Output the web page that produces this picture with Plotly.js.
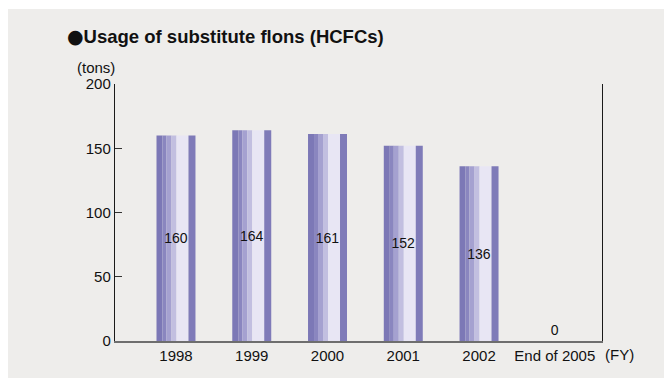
<!DOCTYPE html>
<html>
<head>
<meta charset="utf-8">
<script src="https://cdn.plot.ly/plotly-3.0.1.min.js"></script>
<style>
  html, body { margin: 0; padding: 0; background: #ffffff; }
  #panel { position: absolute; left: 8px; top: 9px; width: 656px; height: 369px; background: #eeedeb; }
  #chart { width: 656px; height: 369px; }
</style>
</head>
<body>
<div id="panel"><div id="chart"></div></div>
<script>
// ---- data ----
const categories = ["1998", "1999", "2000", "2001", "2002", "End of 2005"];
const usageTons = [160, 164, 161, 152, 136, 0];
const yTickValues = [0, 50, 100, 150, 200];
const titleBullet = "●";
const chartTitle = "Usage of substitute flons (HCFCs)";
const yUnit = "(tons)";
const xUnit = "(FY)";

// ---- style: vertical stripes making up each bar (pixel boundaries relative to bar centre) ----
const pxPerCat = 75.8;
const stripeEdges = [-19.5, -13.5, -9.5, -4.5, 0.5, 12.5, 19.5];
const stripeColors = ["#7c78b6", "#8a86bf", "#a5a1d0", "#c2bfe0", "#e8e6f4", "#7f7bb8"];
const font = '"Liberation Sans", Arial, Helvetica, sans-serif';

const traces = stripeColors.map((c, i) => ({
  type: "bar",
  x: categories,
  y: usageTons,
  offset: stripeEdges[i] / pxPerCat,
  width: (stripeEdges[i + 1] - stripeEdges[i]) / pxPerCat,
  marker: { color: c, line: { width: 0 } },
  hoverinfo: "skip",
  showlegend: false
}));

// transparent full-width bar carrying the value labels
traces.push({
  type: "bar",
  x: categories,
  y: usageTons,
  offset: stripeEdges[0] / pxPerCat,
  width: (stripeEdges[stripeEdges.length - 1] - stripeEdges[0]) / pxPerCat,
  marker: { color: "rgba(0,0,0,0)", line: { width: 0 } },
  text: usageTons.map(String),
  textposition: usageTons.map(v => v > 0 ? "inside" : "outside"),
  insidetextanchor: "middle",
  constraintext: "none",
  cliponaxis: false,
  textfont: { family: font, size: 14, color: "#111111" },
  insidetextfont: { family: font, size: 14, color: "#111111" },
  outsidetextfont: { family: font, size: 14, color: "#111111" },
  hoverinfo: "skip",
  showlegend: false
});

const layout = {
  width: 656,
  height: 369,
  margin: { l: 107, r: 62, t: 75, b: 37, pad: 0 },
  paper_bgcolor: "#eeedeb",
  plot_bgcolor: "#eeedeb",
  barmode: "overlay",
  font: { family: font, size: 15, color: "#111111" },
  title: {
    text: '<b><span style="font-family:\'DejaVu Sans\';font-size:19px">' + titleBullet + '</span>' + chartTitle + '</b>',
    font: { family: font, size: 18.5, color: "#111111" },
    xref: "container", x: 59 / 656, xanchor: "left",
    yref: "container", y: 1 - 27.5 / 369, yanchor: "middle"
  },
  xaxis: {
    type: "category",
    range: [-0.805, 5.623],
    showgrid: false,
    zeroline: false,
    showline: true,
    linecolor: "#6e6e6e",
    linewidth: 1.5,
    ticks: "",
    tickfont: { family: font, size: 15, color: "#111111" },
    fixedrange: true
  },
  yaxis: {
    range: [0, 200],
    tickvals: yTickValues,
    showgrid: false,
    zeroline: false,
    showline: true,
    mirror: true,
    linecolor: "#1a1a1a",
    linewidth: 1.2,
    ticks: "inside",
    ticklen: 7,
    tickwidth: 1,
    tickcolor: "#333333",
    tickfont: { family: font, size: 15, color: "#111111" },
    fixedrange: true
  },
  annotations: [
    {
      text: yUnit, xref: "paper", yref: "paper", x: 0, y: 1,
      xanchor: "right", yanchor: "bottom", xshift: 2, yshift: 6,
      showarrow: false, font: { family: font, size: 15, color: "#111111" }
    },
    {
      text: xUnit, xref: "paper", yref: "paper", x: 1, y: 0,
      xanchor: "left", yanchor: "top", xshift: 1, yshift: -3,
      showarrow: false, font: { family: font, size: 15, color: "#111111" }
    }
  ]
};

Plotly.newPlot("chart", traces, layout, { displayModeBar: false, staticPlot: true });
</script>
</body>
</html>
